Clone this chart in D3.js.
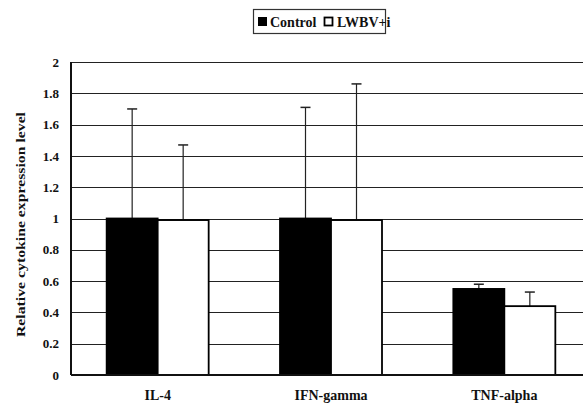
<!DOCTYPE html>
<html>
<head>
<meta charset="utf-8">
<script src="https://cdn.jsdelivr.net/npm/d3@7"></script>
<style>
  html, body { margin: 0; padding: 0; background: #fff; }
  svg { display: block; }
  svg text { font-weight: bold; fill: #111; }
</style>
</head>
<body>
<svg id="chart" width="583" height="410"></svg>
<script>
// Cytokine expression, relative to control
const categories = ["IL-4", "IFN-gamma", "TNF-alpha"];
const seriesNames = ["Control", "LWBV+i"];
const controlValues = [1.0, 1.0, 0.55];
const controlErrors = [0.70, 0.71, 0.03];
const lwbvValues = [0.99, 0.99, 0.44];
const lwbvErrors = [0.48, 0.87, 0.09];
const yTicks = [0, 0.2, 0.4, 0.6, 0.8, 1, 1.2, 1.4, 1.6, 1.8, 2];

const FONT = '"Liberation Serif", "Times New Roman", "DejaVu Serif", serif';
const svg = d3.select("#chart");
const margin = { left: 71, top: 62, bottom: 35 };
const plotW = 520; // runs past the right edge of the page
const H = 410;

const x = d3.scaleBand().domain(categories).range([margin.left, margin.left + plotW]).paddingInner(0).paddingOuter(0);
const y = d3.scaleLinear().domain([0, 2]).range([H - margin.bottom, margin.top]);

const barW = 51;

// gridlines
svg.append("g").selectAll("line").data(yTicks.filter(t => t > 0)).join("line")
  .attr("x1", margin.left).attr("x2", margin.left + plotW)
  .attr("y1", d => Math.round(y(d)) + 0.5).attr("y2", d => Math.round(y(d)) + 0.5)
  .attr("stroke", "#222").attr("stroke-width", 1.2);

// y axis labels
const yAxis = d3.axisLeft(y).tickValues(yTicks).tickSize(0).tickPadding(12).tickFormat(d3.format("~g"));
const ya = svg.append("g").attr("transform", `translate(${margin.left},0)`).call(yAxis)
  .attr("font-family", FONT).attr("font-size", 13);
ya.select(".domain").remove();
ya.selectAll("text").attr("fill", "#111");

// x axis labels
const xAxis = d3.axisBottom(x).tickSize(0).tickPadding(15);
const xa = svg.append("g").attr("transform", `translate(0,${y(0)})`).call(xAxis)
  .attr("font-family", FONT).attr("font-size", 14);
xa.select(".domain").remove();
xa.selectAll("text").attr("fill", "#111");

const groups = [
  { name: seriesNames[0], values: controlValues, errors: controlErrors, fill: "#000", offset: -barW },
  { name: seriesNames[1], values: lwbvValues, errors: lwbvErrors, fill: "#fff", offset: 0 }
];

groups.forEach(g => {
  const cx = i => x(categories[i]) + x.bandwidth() / 2 + g.offset;
  // error bars (upper only)
  const eb = svg.append("g");
  categories.forEach((c, i) => {
    const mx = cx(i) + barW / 2;
    eb.append("line").attr("x1", mx).attr("x2", mx)
      .attr("y1", y(g.values[i])).attr("y2", y(g.values[i] + g.errors[i]))
      .attr("stroke", "#222").attr("stroke-width", 1.2);
    eb.append("line").attr("x1", mx - 5).attr("x2", mx + 5)
      .attr("y1", y(g.values[i] + g.errors[i])).attr("y2", y(g.values[i] + g.errors[i]))
      .attr("stroke", "#222").attr("stroke-width", 1.5);
  });
  svg.append("g").selectAll("rect").data(g.values).join("rect")
    .attr("x", (d, i) => cx(i))
    .attr("y", d => y(d))
    .attr("width", barW)
    .attr("height", d => y(0) - y(d))
    .attr("fill", g.fill)
    .attr("stroke", "#000").attr("stroke-width", 1.8);
});

// axis lines
svg.append("line").attr("x1", margin.left).attr("x2", margin.left)
  .attr("y1", y(2)).attr("y2", y(0)).attr("stroke", "#111").attr("stroke-width", 2);
svg.append("line").attr("x1", margin.left).attr("x2", margin.left + plotW)
  .attr("y1", y(0)).attr("y2", y(0)).attr("stroke", "#111").attr("stroke-width", 2);

// y title
svg.append("text")
  .attr("transform", `translate(25,${(y(0) + y(2)) / 2 + 6}) rotate(-90)`)
  .attr("text-anchor", "middle")
  .attr("font-family", FONT).attr("font-size", 12)
  .attr("textLength", 225).attr("lengthAdjust", "spacingAndGlyphs")
  .text("Relative cytokine expression level");

// legend
const lg = svg.append("g").attr("transform", "translate(253,9)").attr("font-family", FONT).attr("font-size", 14);
lg.append("rect").attr("x", 0.5).attr("y", 0.5).attr("width", 132).attr("height", 24)
  .attr("fill", "#fff").attr("stroke", "#333").attr("stroke-width", 1.2);
lg.append("rect").attr("x", 5).attr("y", 8).attr("width", 9).attr("height", 9).attr("fill", "#000");
lg.append("text").attr("x", 17).attr("y", 17.5).text(seriesNames[0]);
lg.append("rect").attr("x", 71.5).attr("y", 8.5).attr("width", 8).attr("height", 8)
  .attr("fill", "#fff").attr("stroke", "#000").attr("stroke-width", 1.8);
lg.append("text").attr("x", 84).attr("y", 17.5).text(seriesNames[1]);
</script>
</body>
</html>
